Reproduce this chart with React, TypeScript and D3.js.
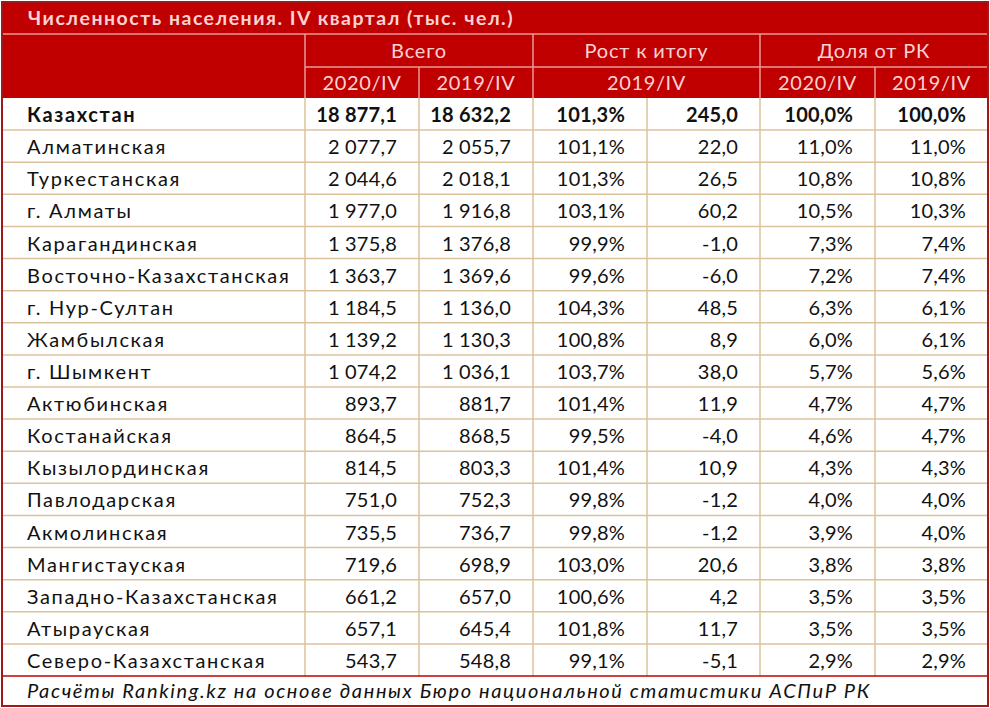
import * as d3 from "d3";

const TITLE = "Численность населения. IV квартал (тыс. чел.)";
const SOURCE = "Расчёты Ranking.kz на основе данных Бюро национальной статистики АСПиР РК";

const GROUPS = [
  { label: "Всего", from: 1, to: 2 },
  { label: "Рост к итогу", from: 3, to: 4 },
  { label: "Доля от РК", from: 5, to: 6 }
];
const SUBHEADS = [
  { label: "2020/IV", from: 1, to: 1 },
  { label: "2019/IV", from: 2, to: 2 },
  { label: "2019/IV", from: 3, to: 4 },
  { label: "2020/IV", from: 5, to: 5 },
  { label: "2019/IV", from: 6, to: 6 }
];

const REGIONS = [
  "Казахстан", "Алматинская", "Туркестанская", "г. Алматы", "Карагандинская",
  "Восточно-Казахстанская", "г. Нур-Султан", "Жамбылская", "г. Шымкент", "Актюбинская",
  "Костанайская", "Кызылординская", "Павлодарская", "Акмолинская", "Мангистауская",
  "Западно-Казахстанская", "Атырауская", "Северо-Казахстанская"
];
const POP_2020 = [
  "18 877,1", "2 077,7", "2 044,6", "1 977,0", "1 375,8", "1 363,7", "1 184,5", "1 139,2",
  "1 074,2", "893,7", "864,5", "814,5", "751,0", "735,5", "719,6", "661,2", "657,1", "543,7"
];
const POP_2019 = [
  "18 632,2", "2 055,7", "2 018,1", "1 916,8", "1 376,8", "1 369,6", "1 136,0", "1 130,3",
  "1 036,1", "881,7", "868,5", "803,3", "752,3", "736,7", "698,9", "657,0", "645,4", "548,8"
];
const GROWTH_PCT = [
  "101,3%", "101,1%", "101,3%", "103,1%", "99,9%", "99,6%", "104,3%", "100,8%", "103,7%",
  "101,4%", "99,5%", "101,4%", "99,8%", "99,8%", "103,0%", "100,6%", "101,8%", "99,1%"
];
const GROWTH_ABS = [
  "245,0", "22,0", "26,5", "60,2", "-1,0", "-6,0", "48,5", "8,9", "38,0",
  "11,9", "-4,0", "10,9", "-1,2", "-1,2", "20,6", "4,2", "11,7", "-5,1"
];
const SHARE_2020 = [
  "100,0%", "11,0%", "10,8%", "10,5%", "7,3%", "7,2%", "6,3%", "6,0%", "5,7%",
  "4,7%", "4,6%", "4,3%", "4,0%", "3,9%", "3,8%", "3,5%", "3,5%", "2,9%"
];
const SHARE_2019 = [
  "100,0%", "11,0%", "10,8%", "10,3%", "7,4%", "7,4%", "6,1%", "6,1%", "5,6%",
  "4,7%", "4,7%", "4,3%", "4,0%", "4,0%", "3,8%", "3,5%", "3,5%", "2,9%"
];

const COLUMNS = [POP_2020, POP_2019, GROWTH_PCT, GROWTH_ABS, SHARE_2020, SHARE_2019];

const W = 990;
const H = 708;
const EDGES = [2, 305, 419, 533, 647, 760, 875, 988];
const TITLE_Y = [2, 34];
const HEAD1_Y = [34, 67];
const HEAD2_Y = [67, 98];
const BODY_Y = [98, 676];
const FOOT_Y = [676, 706];

const RED = "#c00000";
const HEAD_TEXT = "#fbd3d3";
const HEAD_LINE = "#e89a9a";
const GRID = "#dcc29a";
const FONT = "Lato, 'Open Sans', sans-serif";

export default function App() {
  const y = d3
    .scaleBand<number>()
    .domain(d3.range(REGIONS.length))
    .range(BODY_Y);

  const rowCenter = (i: number) => (y(i) as number) + y.bandwidth() / 2;
  const spanCenter = (from: number, to: number) => (EDGES[from] + EDGES[to + 1]) / 2;

  return (
    <svg width={W} height={H} style={{ position: "absolute", left: 0, top: 0, fontFamily: FONT }}>
      <rect x={0} y={0} width={W} height={H} fill="#ffffff" />

      {/* header block */}
      <rect x={EDGES[0]} y={TITLE_Y[0]} width={EDGES[7] - EDGES[0]} height={HEAD2_Y[1] - TITLE_Y[0]} fill={RED} />
      <text x={28} y={(TITLE_Y[0] + TITLE_Y[1]) / 2 + 7} fill={HEAD_TEXT} fontSize={19.5} fontWeight={700} letterSpacing={1.5}>
        {TITLE}
      </text>
      <line x1={EDGES[0]} x2={EDGES[7]} y1={TITLE_Y[1]} y2={TITLE_Y[1]} stroke={HEAD_LINE} strokeWidth={1.5} />
      {[1, 3, 5].map((c) => (
        <line key={"hv1" + c} x1={EDGES[c]} x2={EDGES[c]} y1={HEAD1_Y[0]} y2={HEAD2_Y[1]} stroke={HEAD_LINE} strokeWidth={1.5} />
      ))}
      {[2, 6].map((c) => (
        <line key={"hv2" + c} x1={EDGES[c]} x2={EDGES[c]} y1={HEAD2_Y[0]} y2={HEAD2_Y[1]} stroke={HEAD_LINE} strokeWidth={1.5} />
      ))}
      <line x1={EDGES[1]} x2={EDGES[7]} y1={HEAD1_Y[1]} y2={HEAD1_Y[1]} stroke={HEAD_LINE} strokeWidth={1.5} />
      {GROUPS.map((g) => (
        <text key={g.label} x={spanCenter(g.from, g.to)} y={(HEAD1_Y[0] + HEAD1_Y[1]) / 2 + 7} textAnchor="middle" fill={HEAD_TEXT} fontSize={20} letterSpacing={0.8}>
          {g.label}
        </text>
      ))}
      {SUBHEADS.map((s, i) => (
        <text key={"s" + i} x={spanCenter(s.from, s.to)} y={(HEAD2_Y[0] + HEAD2_Y[1]) / 2 + 7} textAnchor="middle" fill={HEAD_TEXT} fontSize={20} letterSpacing={0.6}>
          {s.label}
        </text>
      ))}

      {/* body grid */}
      {REGIONS.map((_, i) =>
        i === 0 ? null : (
          <line key={"h" + i} x1={EDGES[0]} x2={EDGES[7]} y1={y(i)} y2={y(i)} stroke={GRID} strokeWidth={1.5} />
        )
      )}
      {EDGES.slice(1, 7).map((e, c) => (
        <line key={"v" + c} x1={e} x2={e} y1={BODY_Y[0]} y2={BODY_Y[1]} stroke={GRID} strokeWidth={1.5} />
      ))}

      {/* body text */}
      {REGIONS.map((name, i) => (
        <g key={name} fontSize={20} fontWeight={i === 0 ? 700 : 400} fill="#111111">
          <text x={27} y={rowCenter(i) + 8} letterSpacing={1.65}>{name}</text>
          {COLUMNS.map((col, c) => (
            <text key={c} x={EDGES[c + 2] - 22} y={rowCenter(i) + 8} textAnchor="end" letterSpacing={0.2}>
              {col[i]}
            </text>
          ))}
        </g>
      ))}

      {/* footer */}
      <line x1={EDGES[0]} x2={EDGES[7]} y1={FOOT_Y[0]} y2={FOOT_Y[0]} stroke={RED} strokeWidth={1.5} />
      <text x={27} y={(FOOT_Y[0] + FOOT_Y[1]) / 2 + 7} fontSize={20} fontStyle="italic" fill="#111111" letterSpacing={1.62}>
        {SOURCE}
      </text>

      {/* outer border */}
      <rect x={EDGES[0]} y={TITLE_Y[0]} width={EDGES[7] - EDGES[0]} height={FOOT_Y[1] - TITLE_Y[0]} fill="none" stroke="#a01818" strokeWidth={2} />
    </svg>
  );
}
